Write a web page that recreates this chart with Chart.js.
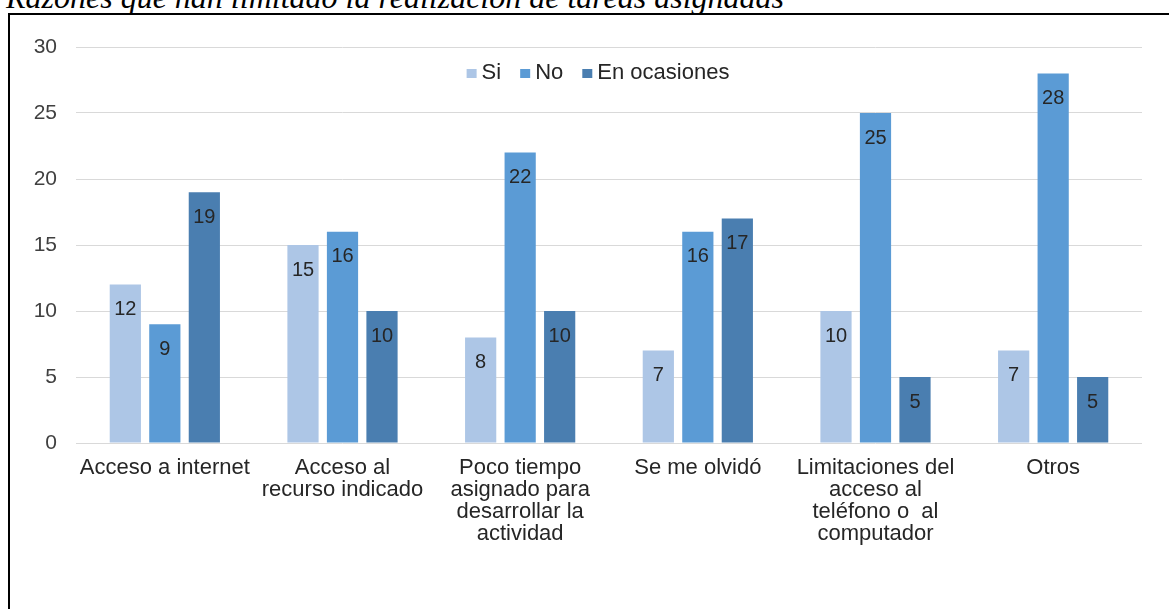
<!DOCTYPE html>
<html>
<head>
<meta charset="utf-8">
<script src="https://cdn.jsdelivr.net/npm/chart.js@4"></script>
<style>
  html, body { margin: 0; padding: 0; background: #fff; }
  body { width: 1169px; height: 609px; position: relative; overflow: hidden; }
  #title {
    position: absolute; left: 6px; top: -19px; white-space: nowrap; line-height: 1;
    font-family: 'Liberation Serif', 'DejaVu Serif', serif; font-style: italic;
    font-size: 32px; color: #000;
  }
  #frame {
    position: absolute; left: 8px; top: 13px; width: 1200px; height: 700px;
    border: 2px solid #000; box-sizing: border-box;
  }
  #wrap { position: absolute; left: 0; top: 0; width: 1169px; height: 609px; }
</style>
</head>
<body>
<div id="title">Razones que han limitado la realización de tareas asignadas</div>
<div id="frame"></div>
<div id="wrap"><canvas id="chart"></canvas></div>
<script>
// categories (multi-line labels as shown under the axis)
const CATEGORIES = [
  'Acceso a internet',
  ['Acceso al', 'recurso indicado'],
  ['Poco tiempo', 'asignado para', 'desarrollar la', 'actividad'],
  'Se me olvidó',
  ['Limitaciones del', 'acceso al', 'teléfono o  al', 'computador'],
  'Otros',
];
const SI          = [12, 15, 8, 7, 10, 7];
const NO          = [9, 16, 22, 16, 25, 28];
const EN_OCASION  = [19, 10, 10, 17, 5, 5];

const SERIES_NAMES  = ['Si', 'No', 'En ocasiones'];
const SERIES_COLORS = ['#adc6e6', '#5b9bd5', '#4a7eb0'];

const Y_MIN = 0, Y_MAX = 30, Y_STEP = 5;

const FONT = '"Liberation Sans", Arial, sans-serif';

// value labels drawn just inside the top of each bar
const barLabels = {
  id: 'barLabels',
  afterDatasetsDraw(chart) {
    const ctx = chart.ctx;
    ctx.save();
    ctx.font = '20px ' + FONT;
    ctx.fillStyle = '#262626';
    ctx.textAlign = 'center';
    ctx.textBaseline = 'middle';
    chart.data.datasets.forEach((ds, i) => {
      chart.getDatasetMeta(i).data.forEach((bar, j) => {
        ctx.fillText(String(ds.data[j]), bar.x, bar.y + 25);
      });
    });
    ctx.restore();
  }
};

// legend in one row inside the top of the plot
const innerLegend = {
  id: 'innerLegend',
  afterDraw(chart) {
    const ctx = chart.ctx;
    const area = chart.chartArea;
    ctx.save();
    ctx.font = '22px ' + FONT;
    ctx.textBaseline = 'middle';
    const box = 10, gapBox = 5, gapItem = 19;
    const names = chart.data.datasets.map(d => d.label);
    const widths = names.map(n => box + gapBox + ctx.measureText(n).width);
    const total = widths.reduce((a, b) => a + b, 0) + gapItem * (names.length - 1);
    let x = (area.left + area.right) / 2 - 11 - total / 2;
    const y = area.top + 26;
    chart.data.datasets.forEach((ds, i) => {
      ctx.fillStyle = ds.backgroundColor;
      ctx.fillRect(x, y - 4, box, 9);
      ctx.fillStyle = '#262626';
      ctx.fillText(ds.label, x + box + gapBox, y);
      x += widths[i] + gapItem;
    });
    ctx.restore();
  }
};

const datasets = [SI, NO, EN_OCASION].map((data, i) => ({
  label: SERIES_NAMES[i],
  data,
  backgroundColor: SERIES_COLORS[i],
  borderWidth: 0,
  categoryPercentage: 0.667,
  barPercentage: 0.79,
}));

new Chart(document.getElementById('chart'), {
  type: 'bar',
  data: { labels: CATEGORIES, datasets },
  plugins: [barLabels, innerLegend],
  options: {
    responsive: true,
    maintainAspectRatio: false,
    animation: false,
    layout: { padding: { top: 47, right: 27, bottom: 0, left: 0 } },
    plugins: {
      tooltip: { enabled: false },
      legend: { display: false },
    },
    scales: {
      x: {
        grid: { display: false },
        border: { display: false },
        ticks: {
          color: '#262626',
          padding: 6,
          maxRotation: 0,
          autoSkip: false,
          font: { family: FONT, size: 22, lineHeight: 1.0 },
        },
        afterFit(scale) { scale.height = 166; },
      },
      y: {
        min: Y_MIN, max: Y_MAX,
        grid: { color: '#d9d9d9', lineWidth: 1, drawTicks: false },
        border: { display: false },
        ticks: {
          stepSize: Y_STEP,
          color: '#404040',
          padding: 19,
          font: { family: FONT, size: 21 },
        },
        afterFit(scale) { scale.width = 76; },
      },
    },
  },
});
</script>
</body>
</html>
